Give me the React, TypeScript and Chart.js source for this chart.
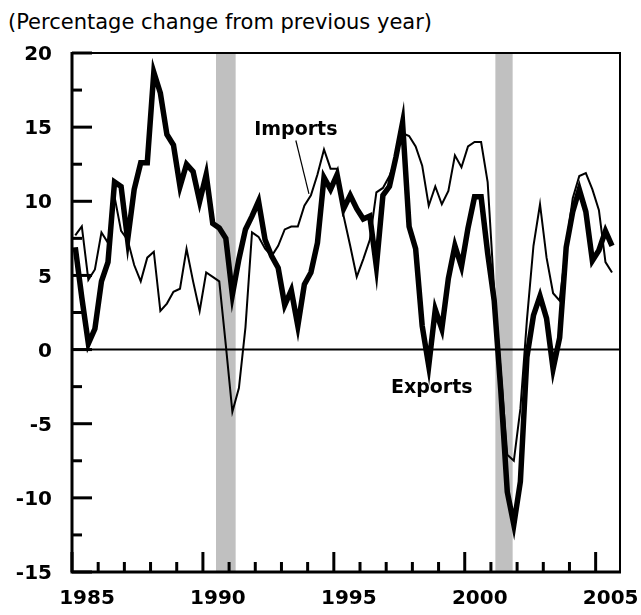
import React, { useEffect, useRef } from 'react';
import { Chart, registerables } from 'chart.js';

Chart.register(...registerables);

// ---------- data ----------
const FIRST_YEAR = 1985;

// Quarterly, percentage change from previous year, 1985Q1 .. 2005Q3
const exportsPct = [
  6.9, 3.5, 0.4, 1.4, // 1985
  4.6, 5.9, 11.3, 11.0, // 1986
  7.4, 10.8, 12.6, 12.6, // 1987
  18.7, 17.3, 14.5, 13.8, // 1988
  11.0, 12.5, 12.0, 10.0, // 1989
  11.8, 8.5, 8.2, 7.5, // 1990
  3.7, 6.1, 8.1, 9.0, // 1991
  10.0, 7.4, 6.3, 5.5, // 1992
  3.0, 4.0, 1.6, 4.4, // 1993
  5.2, 7.2, 11.6, 10.8, // 1994
  11.8, 9.5, 10.4, 9.5, // 1995
  8.8, 9.0, 5.6, 10.4, // 1996
  11.0, 13.0, 15.3, 8.3, // 1997
  6.8, 1.6, -1.1, 2.7, // 1998
  1.4, 4.8, 7.0, 5.6, // 1999
  8.2, 10.3, 10.3, 6.5, // 2000
  3.3, -2.7, -9.6, -11.8, // 2001
  -8.9, -0.5, 2.3, 3.6, // 2002
  2.1, -1.3, 0.8, 6.9, // 2003
  9.3, 10.8, 9.3, 6.0, // 2004
  6.7, 8.0, 7.0, // 2005
];

const importsPct = [
  7.7, 8.3, 4.7, 5.4, // 1985
  7.9, 7.2, 10.3, 8.0, // 1986
  7.4, 5.7, 4.6, 6.2, // 1987
  6.6, 2.6, 3.1, 3.9, // 1988
  4.1, 6.8, 4.6, 2.6, // 1989
  5.2, 4.9, 4.6, 0.3, // 1990
  -4.2, -2.6, 1.5, 7.9, // 1991
  7.6, 6.8, 6.3, 7.0, // 1992
  8.1, 8.3, 8.3, 9.7, // 1993
  10.4, 11.8, 13.5, 12.2, // 1994
  12.2, 9.0, 7.0, 4.9, // 1995
  6.1, 7.4, 10.6, 10.9, // 1996
  11.7, 12.9, 14.6, 14.4, // 1997
  13.7, 12.4, 9.7, 11.0, // 1998
  9.8, 10.7, 13.1, 12.3, // 1999
  13.7, 14.0, 14.0, 11.3, // 2000
  4.0, -1.5, -7.1, -7.5, // 2001
  -4.0, 2.0, 7.0, 9.8, // 2002
  6.2, 3.8, 3.3, 7.0, // 2003
  10.2, 11.7, 11.9, 10.8, // 2004
  9.4, 5.9, 5.2, // 2005
];

// mid-quarter positions on the time axis
const quarterPos = exportsPct.map(
  (_, i) => FIRST_YEAR + Math.floor(i / 4) + ((i % 4) + 0.5) / 4
);

const yearTicks = Array.from({ length: 21 }, (_, i) => FIRST_YEAR + i);
const labeledYears = [1985, 1990, 1995, 2000, 2005];
const yTicks = [-15, -10, -5, 0, 5, 10, 15, 20];

const recessionStart = [1990.5, 2001.17];
const recessionEnd = [1991.25, 2001.83];

const seriesLabels = [
  { text: 'Imports', x: 1993.55, y: 14.8 },
  { text: 'Exports', x: 1998.74, y: -2.6 },
];
const importsLeaderFrom = { x: 1993.55, y: 14.1 };
const importsLeaderTo = { x: 1994.05, y: 10.5 };

const X_MIN = 1985;
const X_MAX = 2005.93;
const Y_MIN = -15;
const Y_MAX = 20;

const FONT = '"DejaVu Sans", "Noto Sans", sans-serif';

const decorPlugin = {
  id: 'decor',
  beforeDatasetsDraw(chart: any) {
    const { ctx, chartArea, scales } = chart;
    const { left, right, top, bottom } = chartArea;
    const x = scales.x;
    const y = scales.y;
    ctx.save();
    ctx.fillStyle = '#c0c0c0';
    recessionStart.forEach((s, k) => {
      const x0 = x.getPixelForValue(s);
      const x1 = x.getPixelForValue(recessionEnd[k]);
      ctx.fillRect(x0, top, x1 - x0, bottom - top);
    });
    const y0 = y.getPixelForValue(0);
    ctx.strokeStyle = '#000';
    ctx.lineWidth = 2;
    ctx.beginPath();
    ctx.moveTo(left, y0);
    ctx.lineTo(right, y0);
    ctx.stroke();
    ctx.restore();
  },
  afterDatasetsDraw(chart: any) {
    const { ctx, chartArea, scales } = chart;
    const { left, right, top, bottom } = chartArea;
    const x = scales.x;
    const y = scales.y;
    ctx.save();
    ctx.strokeStyle = '#000';
    ctx.lineCap = 'butt';
    // top & right frame
    ctx.lineWidth = 2;
    ctx.beginPath();
    ctx.moveTo(left, top);
    ctx.lineTo(right, top);
    ctx.lineTo(right, bottom);
    ctx.stroke();
    // left & bottom axes
    ctx.lineWidth = 3;
    ctx.beginPath();
    ctx.moveTo(left, top - 1);
    ctx.lineTo(left, bottom);
    ctx.lineTo(right + 1, bottom);
    ctx.stroke();
    // x tick marks (inside)
    ctx.lineWidth = 3;
    yearTicks.forEach((yr) => {
      const px = x.getPixelForValue(yr);
      const len = labeledYears.includes(yr) ? 20 : 10;
      ctx.beginPath();
      ctx.moveTo(px, bottom);
      ctx.lineTo(px, bottom - len);
      ctx.stroke();
    });
    // y tick marks (inside), every 2.5
    for (let v = Y_MIN; v <= Y_MAX; v += 2.5) {
      const py = y.getPixelForValue(v);
      const len = v % 5 === 0 ? 20 : 10;
      ctx.beginPath();
      ctx.moveTo(left, py);
      ctx.lineTo(left + len, py);
      ctx.stroke();
    }
    // series labels
    ctx.fillStyle = '#000';
    ctx.font = `bold 19px ${FONT}`;
    ctx.textAlign = 'center';
    ctx.textBaseline = 'middle';
    seriesLabels.forEach((l) => {
      ctx.fillText(l.text, x.getPixelForValue(l.x), y.getPixelForValue(l.y));
    });
    // leader line for Imports
    ctx.lineWidth = 1.2;
    ctx.beginPath();
    ctx.moveTo(x.getPixelForValue(importsLeaderFrom.x), y.getPixelForValue(importsLeaderFrom.y));
    ctx.lineTo(x.getPixelForValue(importsLeaderTo.x), y.getPixelForValue(importsLeaderTo.y));
    ctx.stroke();
    ctx.restore();
  },
};

export default function App() {
  const canvasRef = useRef<HTMLCanvasElement | null>(null);

  useEffect(() => {
    if (!canvasRef.current) return;
    const chart = new Chart(canvasRef.current, {
      type: 'line',
      data: {
        datasets: [
          {
            label: 'Exports',
            data: quarterPos.map((q, i) => ({ x: q, y: exportsPct[i] })),
            borderColor: '#000',
            borderWidth: 5.5,
            pointRadius: 0,
            tension: 0,
            fill: false,
            borderJoinStyle: 'miter',
          },
          {
            label: 'Imports',
            data: quarterPos.map((q, i) => ({ x: q, y: importsPct[i] })),
            borderColor: '#000',
            borderWidth: 2,
            pointRadius: 0,
            tension: 0,
            fill: false,
            borderJoinStyle: 'miter',
          },
        ],
      },
      options: {
        responsive: false,
        animation: false,
        layout: { padding: { top: 53, right: 21, left: 0, bottom: 0 } },
        plugins: {
          legend: { display: false },
          tooltip: { enabled: false },
        },
        scales: {
          x: {
            type: 'linear',
            min: X_MIN,
            max: X_MAX,
            grid: { display: false, drawTicks: false },
            border: { display: false },
            afterBuildTicks: (s: any) => {
              s.ticks = yearTicks.map((v) => ({ value: v }));
            },
            afterFit: (s: any) => {
              s.height = 43;
              s.paddingLeft = 0;
              s.paddingRight = 0;
            },
            ticks: {
              autoSkip: false,
              maxRotation: 0,
              minRotation: 0,
              padding: 15,
              labelOffset: 15,
              color: '#000',
              font: { family: FONT, weight: 'bold', size: 20 },
              callback: (v: any) => (labeledYears.includes(Number(v)) ? String(v) : ''),
            },
          },
          y: {
            type: 'linear',
            min: Y_MIN,
            max: Y_MAX,
            grid: { display: false, drawTicks: false },
            border: { display: false },
            afterBuildTicks: (s: any) => {
              s.ticks = yTicks.map((v) => ({ value: v }));
            },
            afterFit: (s: any) => {
              s.width = 72;
              s.paddingTop = 0;
              s.paddingBottom = 0;
            },
            ticks: {
              padding: 20,
              labelOffset: 2,
              color: '#000',
              font: { family: FONT, weight: 'bold', size: 20 },
              callback: (v: any) => String(v),
            },
          },
        },
      },
      plugins: [decorPlugin],
    } as any);
    return () => chart.destroy();
  }, []);

  return (
    <div
      style={{
        position: 'fixed',
        left: 0,
        top: 0,
        width: 641,
        height: 615,
        background: '#fff',
      }}
    >
      <div
        style={{
          position: 'absolute',
          left: 8,
          top: 10,
          fontFamily: FONT,
          fontSize: 21,
          lineHeight: 'normal',
          whiteSpace: 'nowrap',
          color: '#000',
        }}
      >
        (Percentage change from previous year)
      </div>
      <canvas
        ref={canvasRef}
        width={641}
        height={615}
        style={{ position: 'absolute', left: 0, top: 0, display: 'block' }}
      />
    </div>
  );
}
